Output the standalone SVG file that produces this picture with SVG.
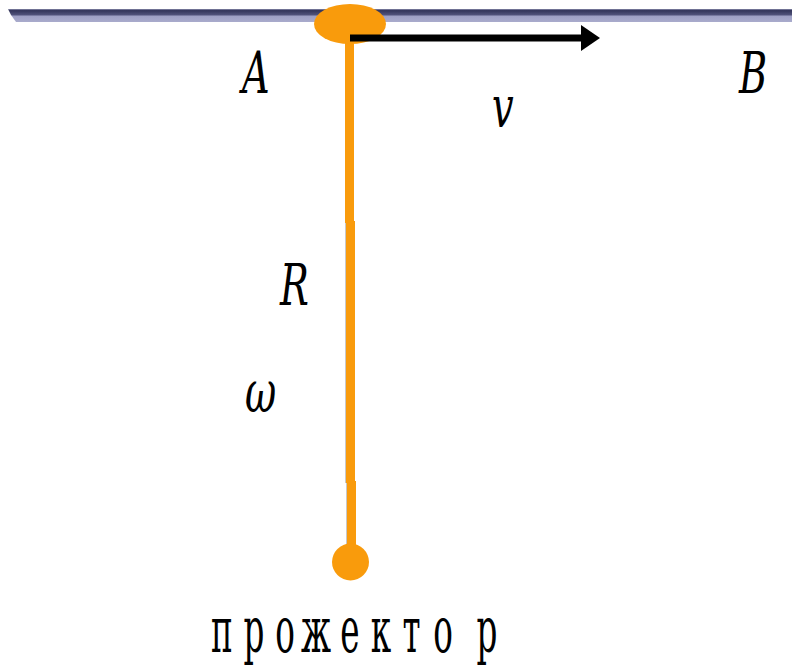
<svg xmlns="http://www.w3.org/2000/svg" width="792" height="666" viewBox="0 0 792 666">
<defs>
<linearGradient id="bar" x1="0" y1="0" x2="0" y2="1">
<stop offset="0" stop-color="#8d8fb0"/>
<stop offset="0.12" stop-color="#33355a"/>
<stop offset="0.45" stop-color="#50527a"/>
<stop offset="0.55" stop-color="#9ea0c4"/>
<stop offset="1" stop-color="#a9abcc"/>
</linearGradient>
<marker id="arr" viewBox="0 0 20 26" refX="0" refY="13" markerWidth="20" markerHeight="26" markerUnits="userSpaceOnUse" orient="auto">
<polygon points="0,0 19,13 0,26" fill="#000"/>
</marker>
<style>
.it{font-family:"DejaVu Serif",serif;font-style:italic;font-size:58px;fill:#000}
.up{font-family:"DejaVu Serif",serif;font-size:64px;fill:#000;text-anchor:middle}
.or{fill:#F99B0C}
</style>
</defs>
<rect width="792" height="666" fill="#fff"/>
<g id="rail">
<polygon points="8,9 792,9 792,22 16,22 11,15" fill="url(#bar)"/>
</g>
<g id="rod">
<rect class="or" x="345" y="38" width="9" height="185"/>
<rect x="345" y="223" width="1.2" height="260" fill="#c8c8c8"/>
<rect class="or" x="346" y="221" width="9" height="262"/>
<rect x="346" y="483" width="1.2" height="65" fill="#c8c8c8"/>
<rect class="or" x="347" y="481" width="9" height="70"/>
</g>
<g id="carriage">
<ellipse class="or" cx="350" cy="24" rx="36" ry="20"/>
</g>
<g id="projector">
<circle class="or" cx="350.5" cy="562" r="18.5"/>
</g>
<g id="connectors">
<line x1="350" y1="38" x2="581" y2="38" stroke="#000" stroke-width="7" marker-end="url(#arr)"/>
</g>
<g id="labels">
<text class="it" transform="translate(242,93) scale(0.66,1)" x="0" y="0">A</text>
<text class="it" transform="translate(739,93) scale(0.66,1)" x="0" y="0">B</text>
<text class="it" transform="translate(492,127) scale(0.66,1)" x="0" y="0">v</text>
<text class="it" transform="translate(280,305) scale(0.66,1)" x="0" y="0">R</text>
<text class="it" transform="translate(245,412) scale(0.66,1)" x="0" y="0">ω</text>
<text class="up" transform="translate(0,652) scale(0.51,1)" x="435.3 498 558.8 619.6 686.3 747.1 806.9 868.6 954.9" y="0">прожектор</text>
</g>
</svg>
